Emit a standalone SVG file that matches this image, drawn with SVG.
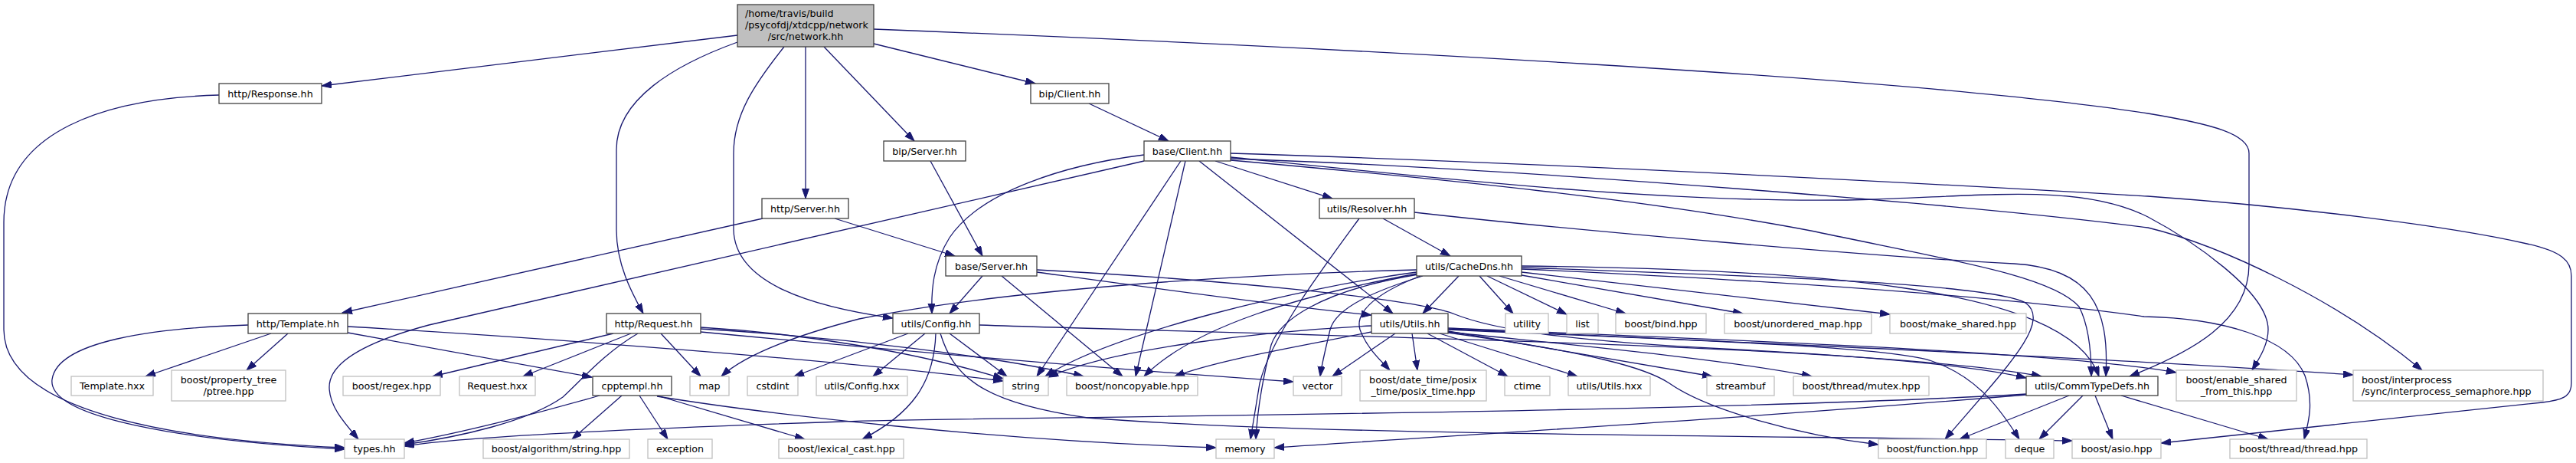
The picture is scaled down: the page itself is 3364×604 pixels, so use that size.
<svg xmlns="http://www.w3.org/2000/svg" width="3364" height="604" viewBox="0 0 3364 604">
<defs>
<style>
rect{stroke-width:1.3}
.b rect{fill:#fff;stroke:#404040}
.g rect{fill:#fff;stroke:#bfbfbf}
.r rect{fill:#bfbfbf;stroke:#404040}
text{font-family:"DejaVu Sans","Liberation Sans",sans-serif;font-size:12.7px;text-anchor:middle;fill:#000}
text.l{text-anchor:start}
#edges path{fill:none;stroke:#191970;stroke-width:1.3;marker-end:url(#ah)}
</style>
<marker id="ah" markerWidth="14" markerHeight="10" refX="13" refY="4.5" orient="auto" markerUnits="userSpaceOnUse">
<path d="M0,0 L13,4.5 L0,9 z" fill="#191970" stroke="#191970" stroke-width="1"/>
</marker>
</defs>
<rect x="0" y="0" width="3364" height="604" fill="#fff"/>
<g id="edges">
<path d="M963,46 L420,112"/>
<path d="M963,55 C880,85 805,130 805,195 L805,300 C805,345 825,382 840,409"/>
<path d="M1024,61 C985,110 958,150 958,200 L958,300 C960,370 1060,400 1166,415"/>
<path d="M1052,61 L1052,259"/>
<path d="M1076,61 L1194,184"/>
<path d="M1141,57 L1352,109"/>
<path d="M1141,38 C1700,60 2500,100 2805,148 C2890,162 2937,175 2937,200 L2937,345 C2937,420 2860,460 2781,491"/>
<path d="M286,124 C140,128 5,170 5,290 L5,430 C5,540 240,575 450,584"/>
<path d="M1422,135 L1526,184"/>
<path d="M1215,210 L1283,334"/>
<path d="M996,285 L447,408"/>
<path d="M1090,285 L1247,334"/>
<path d="M1587,210 L1740,259"/>
<path d="M1494,202 C1390,215 1280,250 1240,310 C1218,345 1216,380 1217,409"/>
<path d="M1494,210 L560,424 C470,448 430,475 430,505 C430,530 450,552 468,573"/>
<path d="M1542,210 L1354,491"/>
<path d="M1548,210 L1483,491"/>
<path d="M1566,210 L1819,409"/>
<path d="M1607,200 C2100,215 2700,250 2805,256 C3000,270 3200,295 3300,318 C3345,328 3358,340 3358,360 L3358,500 C3358,518 3345,522 3320,525 L2822,578"/>
<path d="M1607,205 C1900,235 2200,268 2450,260 C2600,255 2720,240 2805,283 C2860,312 2962,380 2962,430 C2962,450 2950,468 2941,483"/>
<path d="M1607,207 C2000,220 2600,270 2805,297 C2900,320 3050,390 3163,483"/>
<path d="M1607,209 C1900,235 2150,260 2370,302 C2550,340 2680,360 2715,400 C2728,425 2731,460 2731,491"/>
<path d="M1806,285 L1894,334"/>
<path d="M1775,285 C1720,360 1660,440 1645,500 L1633,573"/>
<path d="M1847,277 C2050,300 2450,335 2630,344 C2730,350 2755,400 2750,491"/>
<path d="M1283,360 L1240,409"/>
<path d="M1308,360 L1466,491"/>
<path d="M1354,355 C1500,375 1680,400 1791,411"/>
<path d="M1354,352 C1600,365 1850,390 1900,410 C1950,430 2050,445 2250,455 C2450,465 2580,478 2646,493"/>
<path d="M1208,435 L1140,491"/>
<path d="M1240,435 L1315,491"/>
<path d="M1186,435 L1037,491"/>
<path d="M1222,435 C1220,500 1190,540 1126,573"/>
<path d="M1228,435 C1245,490 1280,525 1420,545 C1700,568 2300,568 2706,575"/>
<path d="M1279,424 C1700,438 2450,450 2666,491"/>
<path d="M354,435 L190,491"/>
<path d="M376,435 L322,483"/>
<path d="M324,424 C200,428 75,445 68,495 C62,545 240,575 450,586"/>
<path d="M454,426 C700,440 1100,470 1310,497"/>
<path d="M454,434 L773,492"/>
<path d="M801,435 L565,491"/>
<path d="M824,435 L683,491"/>
<path d="M833,435 C790,460 760,495 735,518 C690,550 600,570 528,580"/>
<path d="M863,435 L915,491"/>
<path d="M915,427 C1050,435 1200,460 1310,494"/>
<path d="M915,429 C1100,440 1300,465 1415,491"/>
<path d="M915,433 C1200,460 1500,485 1689,498"/>
<path d="M783,516 C700,540 600,565 528,578"/>
<path d="M812,516 L747,573"/>
<path d="M835,516 L872,573"/>
<path d="M858,516 L1051,573"/>
<path d="M858,517 C1000,540 1300,575 1588,584"/>
<path d="M1905,360 L1858,409"/>
<path d="M1932,360 L1976,409"/>
<path d="M1942,360 L2046,410"/>
<path d="M1958,360 L2123,409"/>
<path d="M1987,359 L2276,409"/>
<path d="M1987,355 L2468,410"/>
<path d="M1987,347 C2350,352 2700,370 2741,491"/>
<path d="M1987,349 C2300,360 2600,370 2645,395 C2680,420 2620,480 2540,573"/>
<path d="M1987,351 C2300,365 2600,385 2800,413 C2900,415 2990,440 3010,490 C3022,525 3015,550 3009,573"/>
<path d="M1858,360 C1800,378 1745,400 1737,430 C1730,460 1726,475 1724,491"/>
<path d="M1855,360 C1790,385 1770,410 1776,430 C1785,455 1805,472 1815,483"/>
<path d="M1850,352 C1600,358 1300,380 1122,416 C1030,440 970,465 942,491"/>
<path d="M1850,355 C1700,375 1450,435 1365,491"/>
<path d="M1850,357 C1700,385 1560,425 1494,491"/>
<path d="M1852,358 C1720,380 1670,420 1660,450 C1650,490 1642,530 1640,573"/>
<path d="M1822,435 L1740,491"/>
<path d="M1844,435 L1851,483"/>
<path d="M1864,435 L1969,491"/>
<path d="M1880,435 L2060,491"/>
<path d="M1891,432 L2236,491"/>
<path d="M1791,425 C1650,432 1450,455 1369,492"/>
<path d="M1791,433 C1680,455 1590,470 1534,491"/>
<path d="M1891,433 C2050,450 2250,468 2366,491"/>
<path d="M1891,434 C2080,460 2150,480 2180,500 C2230,535 2350,568 2453,580"/>
<path d="M1891,430 C2150,442 2450,450 2520,470 C2580,490 2610,530 2637,573"/>
<path d="M1891,428 C2300,445 2700,460 2842,486"/>
<path d="M1891,429 C2400,452 2800,470 3073,489"/>
<path d="M2646,514 C2200,540 1200,545 1100,550 C800,560 600,570 528,582"/>
<path d="M2646,515 C2250,548 1900,568 1664,584"/>
<path d="M2702,516 L2559,573"/>
<path d="M2720,516 L2663,573"/>
<path d="M2736,516 L2759,573"/>
<path d="M2770,516 L2962,573"/>
</g>
<g id="n_root" class="r"><rect x="963" y="6" width="178" height="55"/><text class="l" x="973" y="22">/home/travis/build</text><text class="l" x="973" y="37">/psycofdj/xtdcpp/network</text><text x="1052" y="52">/src/network.hh</text></g>
<g id="n_resp" class="b"><rect x="286" y="109" width="134" height="26"/><text x="353" y="126.6">http/Response.hh</text></g>
<g id="n_bipc" class="b"><rect x="1346" y="109" width="102" height="26"/><text x="1397" y="126.6">bip/Client.hh</text></g>
<g id="n_bips" class="b"><rect x="1154" y="184" width="107" height="26"/><text x="1207.5" y="201.6">bip/Server.hh</text></g>
<g id="n_basec" class="b"><rect x="1494" y="184" width="113" height="26"/><text x="1550.5" y="201.6">base/Client.hh</text></g>
<g id="n_https" class="b"><rect x="995" y="259" width="113" height="26"/><text x="1051.5" y="276.6">http/Server.hh</text></g>
<g id="n_resol" class="b"><rect x="1723" y="259" width="124" height="26"/><text x="1785" y="276.6">utils/Resolver.hh</text></g>
<g id="n_bases" class="b"><rect x="1235" y="334" width="119" height="26"/><text x="1294.5" y="351.6">base/Server.hh</text></g>
<g id="n_cache" class="b"><rect x="1850" y="334" width="137" height="26"/><text x="1918.5" y="351.6">utils/CacheDns.hh</text></g>
<g id="n_tmpl" class="b"><rect x="324" y="409" width="130" height="26"/><text x="389" y="426.6">http/Template.hh</text></g>
<g id="n_req" class="b"><rect x="792" y="409" width="123" height="26"/><text x="853.5" y="426.6">http/Request.hh</text></g>
<g id="n_conf" class="b"><rect x="1166" y="409" width="113" height="26"/><text x="1222.5" y="426.6">utils/Config.hh</text></g>
<g id="n_utils" class="b"><rect x="1791" y="409" width="100" height="26"/><text x="1841" y="426.6">utils/Utils.hh</text></g>
<g id="n_utility" class="g"><rect x="1966" y="409" width="56" height="26"/><text x="1994" y="426.6">utility</text></g>
<g id="n_list" class="g"><rect x="2046" y="409" width="41" height="26"/><text x="2066.5" y="426.6">list</text></g>
<g id="n_bind" class="g"><rect x="2110" y="409" width="118" height="26"/><text x="2169" y="426.6">boost/bind.hpp</text></g>
<g id="n_umap" class="g"><rect x="2252" y="409" width="192" height="26"/><text x="2348" y="426.6">boost/unordered_map.hpp</text></g>
<g id="n_mshared" class="g"><rect x="2468" y="409" width="178" height="26"/><text x="2557" y="426.6">boost/make_shared.hpp</text></g>
<g id="n_tmplhxx" class="g"><rect x="93" y="491" width="107" height="25"/><text x="146.5" y="508.1">Template.hxx</text></g>
<g id="n_ptree" class="g"><rect x="224" y="483" width="149" height="40"/><text x="298.5" y="499.5">boost/property_tree</text><text x="298.5" y="514.5">/ptree.hpp</text></g>
<g id="n_regex" class="g"><rect x="448" y="491" width="127" height="25"/><text x="511.5" y="508.1">boost/regex.hpp</text></g>
<g id="n_reqhxx" class="g"><rect x="600" y="491" width="99" height="25"/><text x="649.5" y="508.1">Request.hxx</text></g>
<g id="n_cpptempl" class="b"><rect x="774" y="491" width="103" height="25"/><text x="825.5" y="508.1">cpptempl.hh</text></g>
<g id="n_map" class="g"><rect x="901" y="491" width="51" height="25"/><text x="926.5" y="508.1">map</text></g>
<g id="n_cstdint" class="g"><rect x="976" y="491" width="66" height="25"/><text x="1009" y="508.1">cstdint</text></g>
<g id="n_confhxx" class="g"><rect x="1066" y="491" width="119" height="25"/><text x="1125.5" y="508.1">utils/Config.hxx</text></g>
<g id="n_string" class="g"><rect x="1310" y="491" width="59" height="25"/><text x="1339.5" y="508.1">string</text></g>
<g id="n_noncopy" class="g"><rect x="1393" y="491" width="171" height="25"/><text x="1478.5" y="508.1">boost/noncopyable.hpp</text></g>
<g id="n_vector" class="g"><rect x="1689" y="491" width="63" height="25"/><text x="1720.5" y="508.1">vector</text></g>
<g id="n_datetime" class="g"><rect x="1776" y="483" width="165" height="40"/><text x="1858.5" y="499.5">boost/date_time/posix</text><text x="1858.5" y="514.5">_time/posix_time.hpp</text></g>
<g id="n_ctime" class="g"><rect x="1965" y="491" width="59" height="25"/><text x="1994.5" y="508.1">ctime</text></g>
<g id="n_utilshxx" class="g"><rect x="2048" y="491" width="107" height="25"/><text x="2101.5" y="508.1">utils/Utils.hxx</text></g>
<g id="n_streambuf" class="g"><rect x="2229" y="491" width="88" height="25"/><text x="2273" y="508.1">streambuf</text></g>
<g id="n_mutex" class="g"><rect x="2342" y="491" width="177" height="25"/><text x="2430.5" y="508.1">boost/thread/mutex.hpp</text></g>
<g id="n_commtd" class="b"><rect x="2646" y="491" width="172" height="25"/><text x="2732" y="508.1">utils/CommTypeDefs.hh</text></g>
<g id="n_enable" class="g"><rect x="2842" y="483" width="157" height="40"/><text x="2920.5" y="499.5">boost/enable_shared</text><text x="2920.5" y="514.5">_from_this.hpp</text></g>
<g id="n_ipc" class="g"><rect x="3073" y="483" width="248" height="40"/><text class="l" x="3084" y="499.5">boost/interprocess</text><text class="l" x="3084" y="514.5">/sync/interprocess_semaphore.hpp</text></g>
<g id="n_types" class="g"><rect x="450" y="573" width="78" height="25"/><text x="489" y="590.1">types.hh</text></g>
<g id="n_algo" class="g"><rect x="631" y="573" width="191" height="25"/><text x="726.5" y="590.1">boost/algorithm/string.hpp</text></g>
<g id="n_exception" class="g"><rect x="846" y="573" width="84" height="25"/><text x="888" y="590.1">exception</text></g>
<g id="n_lexical" class="g"><rect x="1017" y="573" width="163" height="25"/><text x="1098.5" y="590.1">boost/lexical_cast.hpp</text></g>
<g id="n_memory" class="g"><rect x="1588" y="573" width="76" height="25"/><text x="1626" y="590.1">memory</text></g>
<g id="n_function" class="g"><rect x="2453" y="573" width="141" height="25"/><text x="2523.5" y="590.1">boost/function.hpp</text></g>
<g id="n_deque" class="g"><rect x="2619" y="573" width="63" height="25"/><text x="2650.5" y="590.1">deque</text></g>
<g id="n_asio" class="g"><rect x="2706" y="573" width="116" height="25"/><text x="2764" y="590.1">boost/asio.hpp</text></g>
<g id="n_thread" class="g"><rect x="2912" y="573" width="179" height="25"/><text x="3001.5" y="590.1">boost/thread/thread.hpp</text></g>
</svg>
